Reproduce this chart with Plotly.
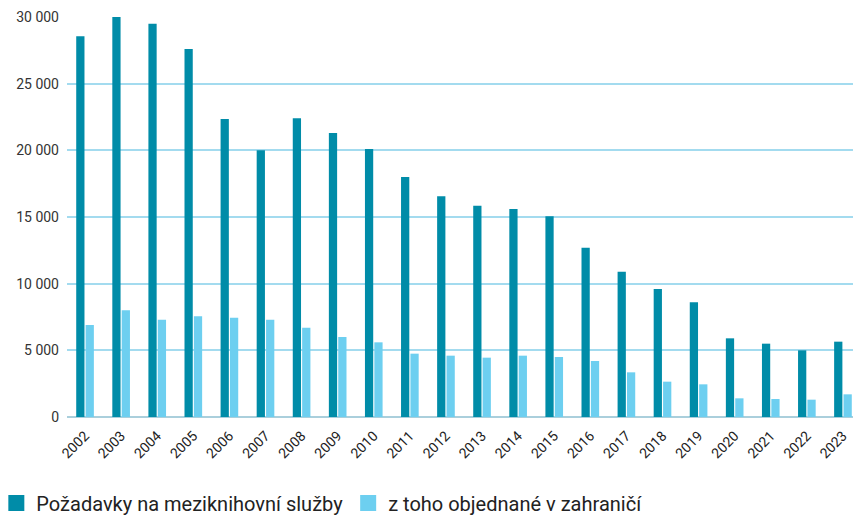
import plotly.graph_objects as go

years = [str(y) for y in range(2002, 2024)]
pozadavky = [28550, 30000, 29500, 27600, 22350, 20000, 22400, 21300, 20100, 18000,
             16550, 15850, 15600, 15050, 12700, 10900, 9600, 8600, 5900, 5500, 5000, 5650]
zahranici = [6900, 8000, 7300, 7550, 7450, 7300, 6700, 6000, 5600, 4750,
             4600, 4450, 4600, 4500, 4200, 3350, 2650, 2450, 1400, 1350, 1300, 1700]
series_names = ["Požadavky na meziknihovní služby", "z toho objednané v zahraničí"]
colors = ["#008ca8", "#6dcff0"]
y_ticks = [0, 5000, 10000, 15000, 20000, 25000, 30000]

fig = go.Figure()
for name, vals, c in zip(series_names, [pozadavky, zahranici], colors):
    fig.add_trace(go.Bar(x=years, y=vals, name=name, marker_color=c,
                         marker_line_width=0, showlegend=False))
    fig.add_trace(go.Scatter(x=[None], y=[None], mode="markers", name=name,
                             marker=dict(symbol="square", size=16, color=c)))

# page body adds an 8px offset, compensated in margins
fig.update_layout(
    width=861, height=515,
    margin=dict(l=59, r=8, t=9, b=106, autoexpand=False),
    paper_bgcolor="white", plot_bgcolor="white",
    barmode="group", bargap=0.48, bargroupgap=0.12,
    separators=", ",
    font=dict(family="Roboto, Inter, sans-serif", color="#222"),
    legend=dict(orientation="h",
                x=-0.089, xanchor="left", y=-0.215, yanchor="middle",
                font=dict(size=20, color="#222"), itemwidth=30,
                traceorder="normal"),
    showlegend=True,
)
fig.update_xaxes(type="category", tickangle=-45, tickfont=dict(size=14, color="#222"),
                 showgrid=False, showline=False, ticks="", automargin=False,
                 ticklabelstandoff=7)
fig.update_yaxes(range=[0, 30000], tickvals=y_ticks, separatethousands=True,
                 tickformat=",d", tickfont=dict(size=14, color="#333"),
                 showgrid=True, gridcolor="#a3dbef", gridwidth=1.5,
                 zeroline=True, zerolinecolor="#aacfdc", zerolinewidth=2,
                 ticks="", ticklen=0, showline=False, automargin=False,
                 ticklabelstandoff=7)

fig.write_html("out.html")
